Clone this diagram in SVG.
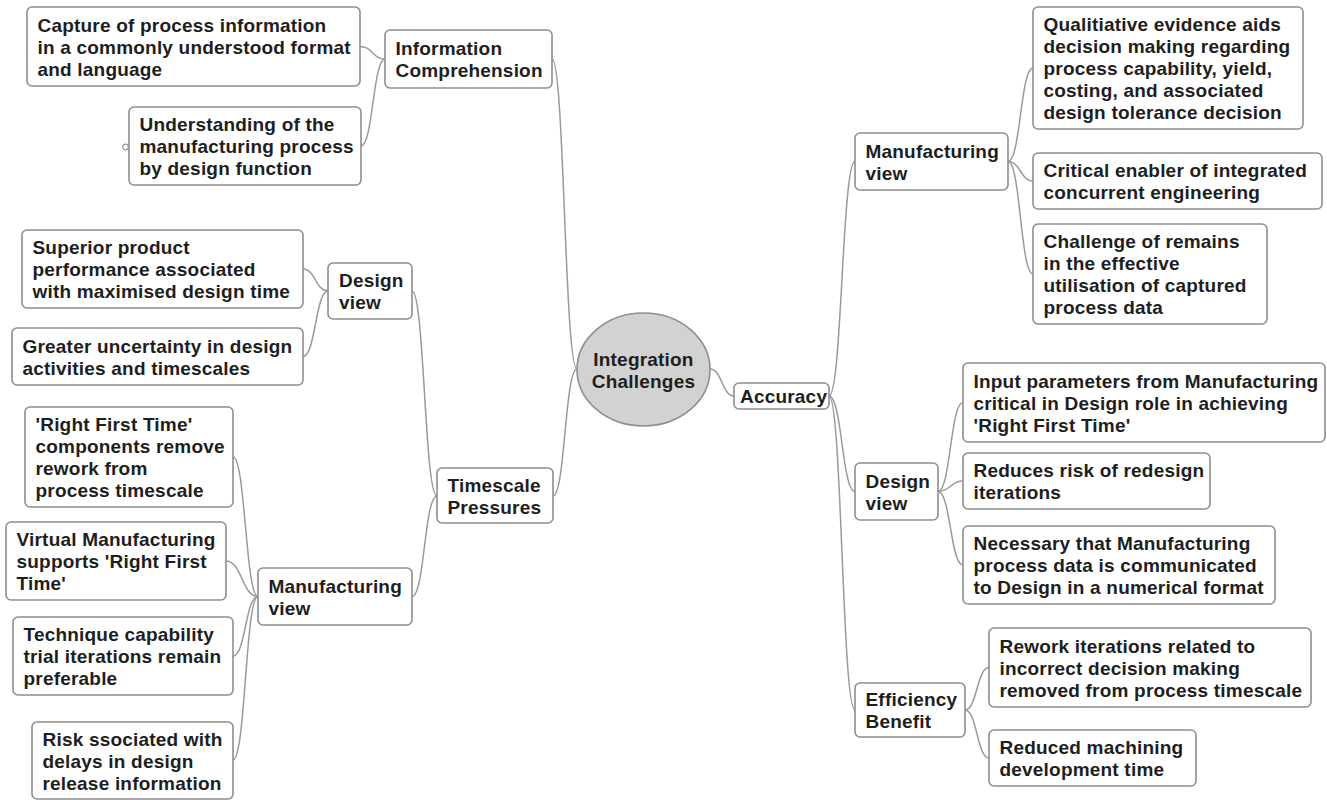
<svg xmlns="http://www.w3.org/2000/svg" width="1327" height="800" viewBox="0 0 1327 800">
<style>
.box{fill:#fff;stroke:#8e8e8e;stroke-width:1.6}
.t{font-family:"Liberation Sans",Arial,sans-serif;font-weight:bold;font-size:19px;letter-spacing:0.2px;fill:#1e1e1e}
.c{fill:none;stroke:#9a9a9a;stroke-width:1.5}
</style>
<rect width="1327" height="800" fill="#fff"/>
<g id="connectors">
<path class="c" d="M577 369 C564.5 369 564.5 59 552 59"/>
<path class="c" d="M577 369 C565 369 565 496 553 496"/>
<path class="c" d="M385 59 C372.5 59 372.5 46.5 360 46.5"/>
<path class="c" d="M385 59 C373 59 373 146 361 146"/>
<path class="c" d="M437 496 C424.5 496 424.5 291 412 291"/>
<path class="c" d="M437 496 C424.5 496 424.5 596.5 412 596.5"/>
<path class="c" d="M328 291 C315.5 291 315.5 269 303 269"/>
<path class="c" d="M328 291 C315.5 291 315.5 356.5 303 356.5"/>
<path class="c" d="M258 596.5 C245.5 596.5 245.5 457 233 457"/>
<path class="c" d="M258 596.5 C242 596.5 242 561 226 561"/>
<path class="c" d="M258 596.5 C245.5 596.5 245.5 656 233 656"/>
<path class="c" d="M258 596.5 C245.5 596.5 245.5 760 233 760"/>
<path class="c" d="M710 369 C722 369 722 396 734 396"/>
<path class="c" d="M829 396 C842 396 842 161.5 855 161.5"/>
<path class="c" d="M829 396 C842 396 842 491.5 855 491.5"/>
<path class="c" d="M829 396 C842 396 842 710 855 710"/>
<path class="c" d="M1008 161.5 C1020.5 161.5 1020.5 68 1033 68"/>
<path class="c" d="M1008 161.5 C1020.5 161.5 1020.5 181 1033 181"/>
<path class="c" d="M1008 161.5 C1020.5 161.5 1020.5 274 1033 274"/>
<path class="c" d="M938 491.5 C950.5 491.5 950.5 402.5 963 402.5"/>
<path class="c" d="M938 491.5 C950.5 491.5 950.5 481 963 481"/>
<path class="c" d="M938 491.5 C950.5 491.5 950.5 565 963 565"/>
<path class="c" d="M965 710 C977 710 977 667.5 989 667.5"/>
<path class="c" d="M965 710 C977 710 977 758 989 758"/>
</g>
<g id="center">
<ellipse cx="643.5" cy="369.5" rx="66.5" ry="56.5" fill="#d2d2d2" stroke="#8e8e8e" stroke-width="1.6"/>
<text class="t" text-anchor="middle"><tspan x="643.5" y="365.5">Integration</tspan><tspan x="643.5" y="387.5">Challenges</tspan></text>
</g>
<g id="info-comprehension">
<rect class="box" x="385" y="30" width="167" height="58" rx="5"/>
<text class="t"><tspan x="395.5" y="55">Information</tspan><tspan x="395.5" y="77">Comprehension</tspan></text>
</g>
<g id="capture">
<rect class="box" x="27" y="7" width="333" height="79" rx="5"/>
<text class="t"><tspan x="37.5" y="31.5">Capture of process information</tspan><tspan x="37.5" y="53.5">in a commonly understood format</tspan><tspan x="37.5" y="75.5">and language</tspan></text>
</g>
<g id="understanding">
<rect class="box" x="129" y="107" width="232" height="78" rx="5"/>
<circle cx="125.5" cy="147" r="2.8" fill="#fff" stroke="#9a9a9a" stroke-width="1.2"/>
<text class="t"><tspan x="139.5" y="131">Understanding of the</tspan><tspan x="139.5" y="153">manufacturing process</tspan><tspan x="139.5" y="175">by design function</tspan></text>
</g>
<g id="design-view-left">
<rect class="box" x="328" y="263" width="84" height="56" rx="5"/>
<text class="t"><tspan x="339" y="287">Design</tspan><tspan x="339" y="309">view</tspan></text>
</g>
<g id="superior">
<rect class="box" x="22" y="230" width="281" height="78" rx="5"/>
<text class="t"><tspan x="32.5" y="254">Superior product</tspan><tspan x="32.5" y="276">performance associated</tspan><tspan x="32.5" y="298">with maximised design time</tspan></text>
</g>
<g id="greater">
<rect class="box" x="12" y="328" width="291" height="57" rx="5"/>
<text class="t"><tspan x="22.5" y="352.5">Greater uncertainty in design</tspan><tspan x="22.5" y="374.5">activities and timescales</tspan></text>
</g>
<g id="timescale">
<rect class="box" x="437" y="468" width="116" height="55" rx="5"/>
<text class="t"><tspan x="447.5" y="491.5">Timescale</tspan><tspan x="447.5" y="513.5">Pressures</tspan></text>
</g>
<g id="manufacturing-view-left">
<rect class="box" x="258" y="568" width="154" height="57" rx="5"/>
<text class="t"><tspan x="268.5" y="592.5">Manufacturing</tspan><tspan x="268.5" y="614.5">view</tspan></text>
</g>
<g id="rft-components">
<rect class="box" x="25" y="407" width="208" height="100" rx="5"/>
<text class="t"><tspan x="35.5" y="431">'Right First Time'</tspan><tspan x="35.5" y="453">components remove</tspan><tspan x="35.5" y="475">rework from</tspan><tspan x="35.5" y="497">process timescale</tspan></text>
</g>
<g id="virtual">
<rect class="box" x="6" y="522" width="220" height="78" rx="5"/>
<text class="t"><tspan x="16.5" y="546">Virtual Manufacturing</tspan><tspan x="16.5" y="568">supports 'Right First</tspan><tspan x="16.5" y="590">Time'</tspan></text>
</g>
<g id="technique">
<rect class="box" x="13" y="617" width="220" height="78" rx="5"/>
<text class="t"><tspan x="23.5" y="641">Technique capability</tspan><tspan x="23.5" y="663">trial iterations remain</tspan><tspan x="23.5" y="685">preferable</tspan></text>
</g>
<g id="risk">
<rect class="box" x="32" y="722" width="201" height="77" rx="5"/>
<text class="t"><tspan x="42.5" y="745.5">Risk ssociated with</tspan><tspan x="42.5" y="767.5">delays in design</tspan><tspan x="42.5" y="789.5">release information</tspan></text>
</g>
<g id="accuracy">
<rect class="box" x="734" y="383" width="95" height="26" rx="5"/>
<text class="t"><tspan x="740" y="403">Accuracy</tspan></text>
</g>
<g id="manufacturing-view-right">
<rect class="box" x="855" y="133" width="153" height="57" rx="5"/>
<text class="t"><tspan x="865.5" y="157.5">Manufacturing</tspan><tspan x="865.5" y="179.5">view</tspan></text>
</g>
<g id="qualitative">
<rect class="box" x="1033" y="7" width="270" height="122" rx="5"/>
<text class="t"><tspan x="1043.5" y="31">Qualitiative evidence aids</tspan><tspan x="1043.5" y="53">decision making regarding</tspan><tspan x="1043.5" y="75">process capability, yield,</tspan><tspan x="1043.5" y="97">costing, and associated</tspan><tspan x="1043.5" y="119">design tolerance decision</tspan></text>
</g>
<g id="critical">
<rect class="box" x="1033" y="153" width="289" height="56" rx="5"/>
<text class="t"><tspan x="1043.5" y="177">Critical enabler of integrated</tspan><tspan x="1043.5" y="199">concurrent engineering</tspan></text>
</g>
<g id="challenge">
<rect class="box" x="1033" y="224" width="234" height="100" rx="5"/>
<text class="t"><tspan x="1043.5" y="248">Challenge of remains</tspan><tspan x="1043.5" y="270">in the effective</tspan><tspan x="1043.5" y="292">utilisation of captured</tspan><tspan x="1043.5" y="314">process data</tspan></text>
</g>
<g id="design-view-right">
<rect class="box" x="855" y="463" width="83" height="57" rx="5"/>
<text class="t"><tspan x="865.5" y="487.5">Design</tspan><tspan x="865.5" y="509.5">view</tspan></text>
</g>
<g id="input">
<rect class="box" x="963" y="363" width="362" height="79" rx="5"/>
<text class="t"><tspan x="973.5" y="387.5">Input parameters from Manufacturing</tspan><tspan x="973.5" y="409.5">critical in Design role in achieving</tspan><tspan x="973.5" y="431.5">'Right First Time'</tspan></text>
</g>
<g id="reduces">
<rect class="box" x="963" y="453" width="247" height="56" rx="5"/>
<text class="t"><tspan x="973.5" y="477">Reduces risk of redesign</tspan><tspan x="973.5" y="499">iterations</tspan></text>
</g>
<g id="necessary">
<rect class="box" x="963" y="526" width="312" height="78" rx="5"/>
<text class="t"><tspan x="973.5" y="550">Necessary that Manufacturing</tspan><tspan x="973.5" y="572">process data is communicated</tspan><tspan x="973.5" y="594">to Design in a numerical format</tspan></text>
</g>
<g id="efficiency">
<rect class="box" x="855" y="683" width="110" height="54" rx="5"/>
<text class="t"><tspan x="865.5" y="706">Efficiency</tspan><tspan x="865.5" y="728">Benefit</tspan></text>
</g>
<g id="rework">
<rect class="box" x="989" y="628" width="322" height="79" rx="5"/>
<text class="t"><tspan x="999.5" y="652.5">Rework iterations related to</tspan><tspan x="999.5" y="674.5">incorrect decision making</tspan><tspan x="999.5" y="696.5">removed from process timescale</tspan></text>
</g>
<g id="reduced">
<rect class="box" x="989" y="730" width="207" height="56" rx="5"/>
<text class="t"><tspan x="999.5" y="754">Reduced machining</tspan><tspan x="999.5" y="776">development time</tspan></text>
</g>
</svg>
